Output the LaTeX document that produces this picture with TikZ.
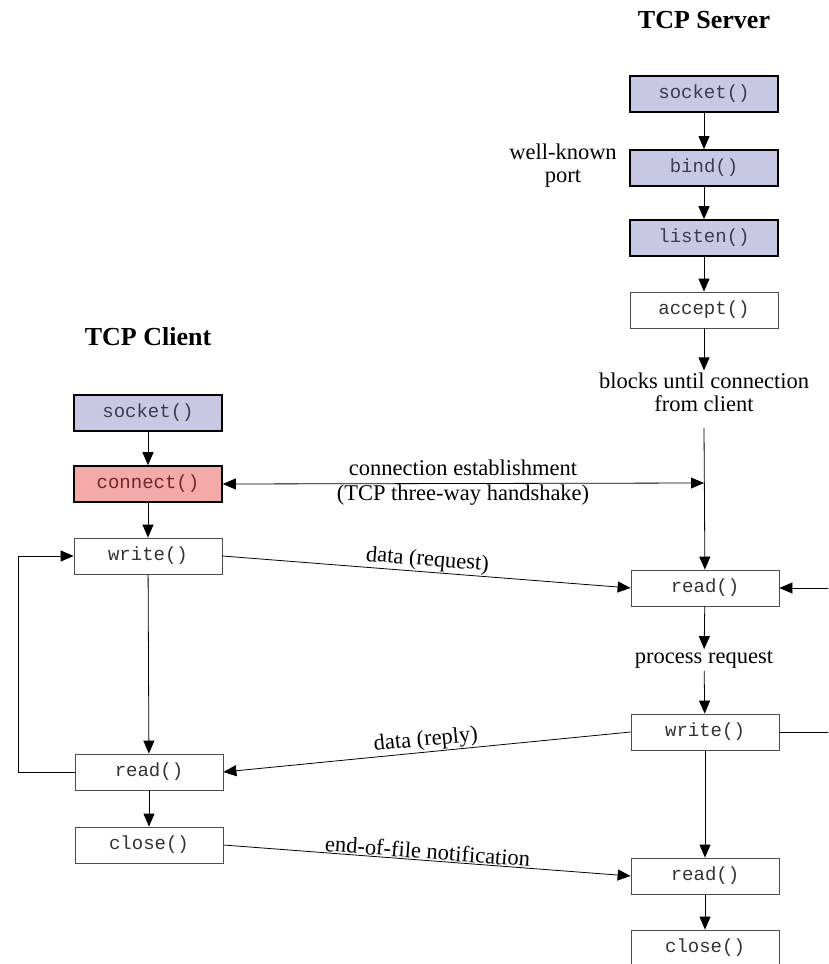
\documentclass[tikz,border=0pt]{standalone}
\usepackage{fontspec}
\setmainfont{Liberation Serif}
\setmonofont{Liberation Mono}
\usetikzlibrary{arrows.meta}
\definecolor{lav}{RGB}{200,200,228}
\definecolor{pinkbox}{RGB}{245,170,170}
\definecolor{lavtext}{RGB}{60,60,80}
\definecolor{pinktext}{RGB}{110,40,40}
\definecolor{fntext}{RGB}{50,50,50}
\begin{document}
\begin{tikzpicture}[x=1pt,y=-1pt,
  fn/.style={draw=black!70,line width=0.8pt,minimum width=148pt,minimum height=36pt,inner sep=0pt,text=fntext,font=\ttfamily\fontsize{19}{22}\selectfont},
  sys/.style={fn,draw=black,line width=1.6pt,fill=lav,text=lavtext},
  lbl/.style={font=\fontsize{22.5}{23}\selectfont,align=center,inner sep=2pt},
  ttl/.style={font=\bfseries\fontsize{26}{30}\selectfont},
  arr/.style={-{Triangle[length=13pt,width=11pt]},line width=0.8pt},
  dbl/.style={{Triangle[length=13pt,width=11pt]}-{Triangle[length=13pt,width=11pt]},line width=0.8pt},
  ln/.style={line width=0.8pt}
]
\useasboundingbox (0,0) rectangle (828,964);
\clip (0,0) rectangle (828,964);

% titles
\node[ttl] (tserver) at (704,20) {TCP Server};
\node[ttl] (tclient) at (148,337) {TCP Client};

% server
\node[sys] (ssock) at (704,94) {socket()};
\node[sys] (sbind) at (704,168) {bind()};
\node[sys] (slisten) at (704,238) {listen()};
\node[fn] (saccept) at (704,310) {accept()};
\node[lbl] (wkp) at (563,166) {well-known\\port};
\node[lbl] (blocks) at (704,392) {blocks until connection\\from client};
\coordinate (vtop) at (704,428);
\node[fn] (sread) at (705,588) {read()};
\node[lbl] (proc) at (704,660) {process request};
\node[fn] (swrite) at (705,732) {write()};
\node[fn] (sread2) at (705,876) {read()};
\node[fn] (sclose) at (705,948) {close()};
\coordinate (rin) at (830,588);
\coordinate (rout) at (830,732);
\coordinate (hs) at (704,483);

% client
\node[sys] (csock) at (148,413) {socket()};
\node[sys,fill=pinkbox,text=pinktext] (cconn) at (148,484) {connect()};
\node[fn] (cwrite) at (148,556) {write()};
\node[fn] (cread) at (149,772) {read()};
\node[fn] (cclose) at (149,845) {close()};
\coordinate (loopx) at (18,772);

% server arrows
\draw[arr] (ssock) -- (sbind);
\draw[arr] (sbind) -- (slisten);
\draw[arr] (slisten) -- (saccept);
\draw[arr] (saccept) -- (blocks);
\draw[arr] (vtop) -- (sread);
\draw[arr] (sread) -- (proc);
\draw[arr] (proc) -- (swrite);
\draw[arr] (swrite) -- (sread2);
\draw[arr] (sread2) -- (sclose);
\draw[arr] (rin) -- (sread.east);
\draw[ln] (swrite.east) -- (rout);

% client arrows
\draw[arr] (csock) -- (cconn);
\draw[arr] (cconn) -- (cwrite);
\draw[arr] (cwrite) -- (cread);
\draw[arr] (cread) -- (cclose);
\draw[arr] (cread.west) -- (loopx) |- (cwrite.west);

% exchanges
\draw[dbl] (cconn.east) -- (hs);
\node[lbl,anchor=base,inner sep=0pt] (ce1) at (463,475) {connection establishment};
\node[lbl,anchor=base,inner sep=0pt] (ce2) at (463,500) {(TCP three-way handshake)};
\draw[arr] (cwrite.east) -- node[lbl,sloped,above,inner sep=1pt] {data (request)} (sread.west);
\draw[arr] (swrite.west) -- node[lbl,sloped,above,inner sep=1pt] {data (reply)} (cread.east);
\draw[arr] (cclose.east) -- node[lbl,sloped,above,inner sep=1pt] {end-of-file notification} (sread2.west);
\end{tikzpicture}
\end{document}
